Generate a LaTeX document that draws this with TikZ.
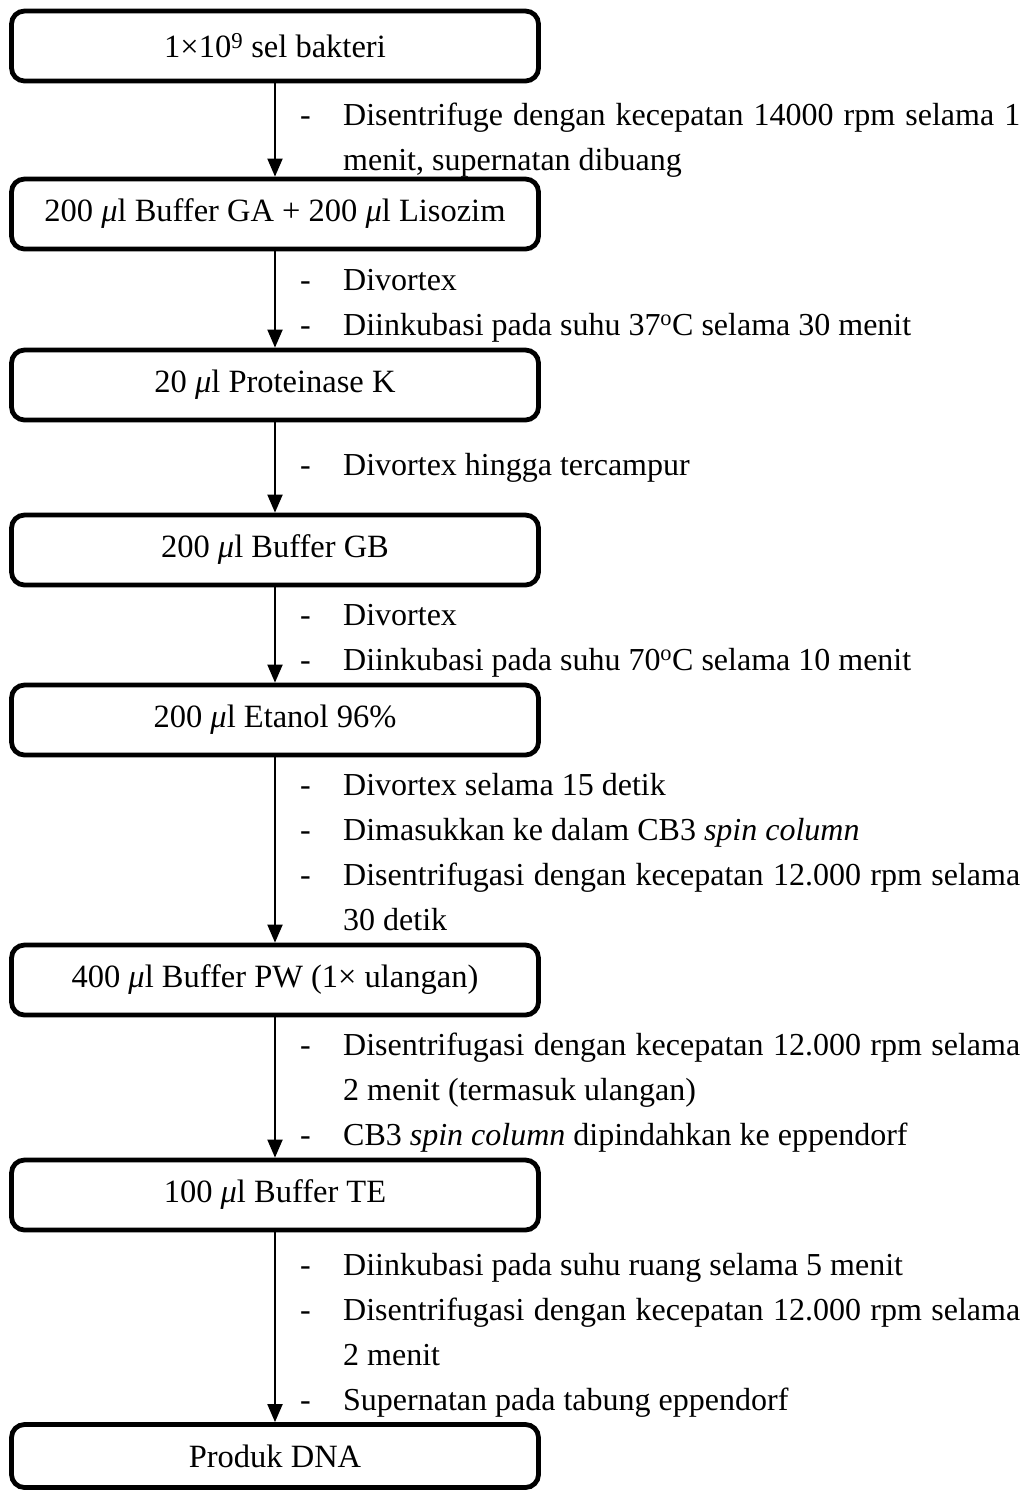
\documentclass[tikz,border=0pt]{standalone}
\usepackage{fontspec}
\setmainfont{Liberation Serif}
\usetikzlibrary{arrows.meta}
\newcommand{\microl}{{\itshape μ}l}
\newcommand{\fullline}[1]{\makebox[677pt][s]{#1}}
\begin{document}
\begin{tikzpicture}[x=1pt,y=-1pt,
  stepbox/.style={draw, line width=4.8pt, rounded corners=13pt,
    minimum width=527pt, minimum height=70pt, inner sep=0pt,
    font=\fontsize{32.5}{38}\selectfont},
  flow/.style={line width=2pt, -{Triangle[width=15pt,length=18pt]}},
  note/.style={anchor=base west, inner sep=0pt, font=\fontsize{32}{38}\selectfont}]
\useasboundingbox (0,0) rectangle (1030,1492);

% process steps
\node[stepbox] (b1) at (275,46)   {1×10\textsuperscript{9} sel bakteri};
\node[stepbox] (b2) at (275,214)  {200 \microl{} Buffer GA + 200 \microl{} Lisozim};
\node[stepbox] (b3) at (275,385)  {20 \microl{} Proteinase K};
\node[stepbox] (b4) at (275,550)  {200 \microl{} Buffer GB};
\node[stepbox] (b5) at (275,720)  {200 \microl{} Etanol 96\%};
\node[stepbox] (b6) at (275,980)  {400 \microl{} Buffer PW (1× ulangan)};
\node[stepbox] (b7) at (275,1195) {100 \microl{} Buffer TE};
\node[stepbox, minimum height=63pt] (b8) at (275,1456) {Produk DNA};

% connectors
\draw[flow] (b1.south) -- (b2.north);
\draw[flow] (b2.south) -- (b3.north);
\draw[flow] (b3.south) -- (b4.north);
\draw[flow] (b4.south) -- (b5.north);
\draw[flow] (b5.south) -- (b6.north);
\draw[flow] (b6.south) -- (b7.north);
\draw[flow] (b7.south) -- (b8.north);

% treatment notes
\node[note] (d1a) at (300,125) {-};
\node[note] (t1a) at (343,125) {\fullline{Disentrifuge dengan kecepatan 14000 rpm selama 1}};
\node[note] (t1b) at (343,170) {menit, supernatan dibuang};

\node[note] (d2a) at (300,290) {-};
\node[note] (t2a) at (343,290) {Divortex};
\node[note] (d2b) at (300,335) {-};
\node[note] (t2b) at (343,335) {Diinkubasi pada suhu 37\textsuperscript{o}C selama 30 menit};

\node[note] (d3a) at (300,475) {-};
\node[note] (t3a) at (343,475) {Divortex hingga tercampur};

\node[note] (d4a) at (300,625) {-};
\node[note] (t4a) at (343,625) {Divortex};
\node[note] (d4b) at (300,670) {-};
\node[note] (t4b) at (343,670) {Diinkubasi pada suhu 70\textsuperscript{o}C selama 10 menit};

\node[note] (d5a) at (300,795) {-};
\node[note] (t5a) at (343,795) {Divortex selama 15 detik};
\node[note] (d5b) at (300,840) {-};
\node[note] (t5b) at (343,840) {Dimasukkan ke dalam CB3 \textit{spin column}};
\node[note] (d5c) at (300,885) {-};
\node[note] (t5c) at (343,885) {\fullline{Disentrifugasi dengan kecepatan 12.000 rpm selama}};
\node[note] (t5d) at (343,930) {30 detik};

\node[note] (d6a) at (300,1055) {-};
\node[note] (t6a) at (343,1055) {\fullline{Disentrifugasi dengan kecepatan 12.000 rpm selama}};
\node[note] (t6b) at (343,1100) {2 menit (termasuk ulangan)};
\node[note] (d6c) at (300,1145) {-};
\node[note] (t6c) at (343,1145) {CB3 \textit{spin column} dipindahkan ke eppendorf};

\node[note] (d7a) at (300,1275) {-};
\node[note] (t7a) at (343,1275) {Diinkubasi pada suhu ruang selama 5 menit};
\node[note] (d7b) at (300,1320) {-};
\node[note] (t7b) at (343,1320) {\fullline{Disentrifugasi dengan kecepatan 12.000 rpm selama}};
\node[note] (t7c) at (343,1365) {2 menit};
\node[note] (d7d) at (300,1410) {-};
\node[note] (t7d) at (343,1410) {Supernatan pada tabung eppendorf};
\end{tikzpicture}
\end{document}
